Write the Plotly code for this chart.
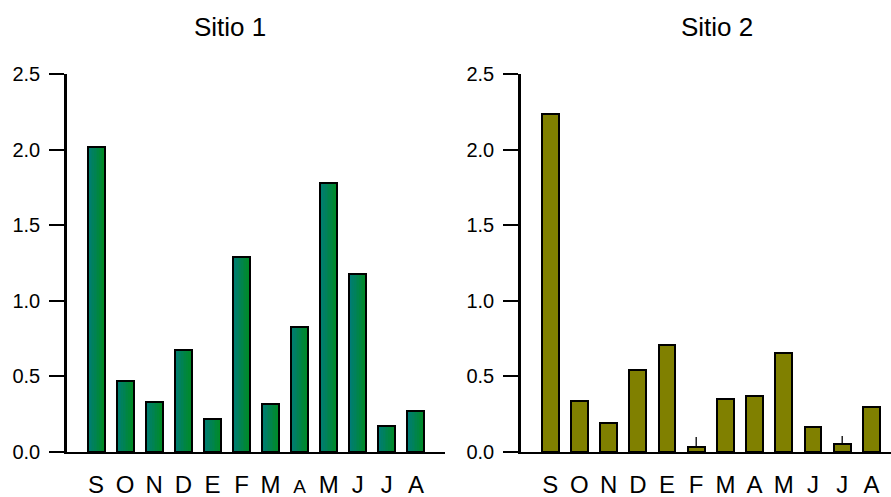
import plotly.graph_objects as go

months = ["S", "O", "N", "D", "E", "F", "M", "A", "M", "J", "J", "A"]
sitio1 = [2.02, 0.47, 0.33, 0.675, 0.22, 1.29, 0.32, 0.83, 1.78, 1.18, 0.17, 0.27]
sitio2 = [2.235, 0.34, 0.19, 0.54, 0.71, 0.03, 0.35, 0.37, 0.655, 0.165, 0.05, 0.30]
sitio2_err = [0, 0, 0, 0, 0, 0.07, 0, 0, 0, 0, 0.055, 0]
yticks = [0.0, 0.5, 1.0, 1.5, 2.0, 2.5]

xpos = list(range(len(months)))
W = 0.58
n = 10
c_left = (0, 124, 118)
c_right = (0, 138, 40)

fig = go.Figure()

# gradient stripes for Sitio 1
for i in range(n):
    t = i / (n - 1)
    col = "rgb(%d,%d,%d)" % tuple(round(a + (b - a) * t) for a, b in zip(c_left, c_right))
    fig.add_trace(go.Bar(x=xpos, y=sitio1, width=W / n + 0.005, offset=-W / 2 + i * W / n,
                         marker=dict(color=col, line=dict(width=0)),
                         xaxis="x", yaxis="y", showlegend=False, hoverinfo="skip"))
fig.add_trace(go.Bar(x=xpos, y=sitio1, width=W, offset=-W / 2,
                     marker=dict(color="rgba(0,0,0,0)", line=dict(color="black", width=2)),
                     xaxis="x", yaxis="y", showlegend=False))

fig.add_trace(go.Bar(x=xpos, y=sitio2, width=W, offset=-W / 2,
                     marker=dict(color="#808000", line=dict(color="black", width=2)),
                     error_y=dict(type="data", array=sitio2_err, arrayminus=[0] * len(sitio2_err),
                                  symmetric=False, width=0, thickness=1.3, color="black"),
                     xaxis="x2", yaxis="y2", showlegend=False))

ydom = [1 - 452 / 497, 1 - 74 / 497]
font = "Liberation Sans, Arial, sans-serif"
left_text = [("<span style='font-size:19px'>%s</span>" % m) if i == 7 else m for i, m in enumerate(months)]

xcommon = dict(showline=True, linecolor="black", linewidth=2, ticks="", showgrid=False,
               zeroline=False, tickvals=xpos, tickfont=dict(size=24, color="black", family=font),
               ticklabelstandoff=10, fixedrange=True, automargin=False)
ycommon = dict(range=[0, 2.5], tickvals=yticks, tickformat=".1f", showline=True, linecolor="black",
               linewidth=2.5, ticks="outside", ticklen=15, tickwidth=1.5, tickcolor="black",
               showgrid=False, zeroline=False, domain=ydom, automargin=False,
               tickfont=dict(size=20, color="black", family=font), ticklabelstandoff=5)

fig.update_layout(
    width=891, height=497, margin=dict(l=0, r=0, t=0, b=0),
    plot_bgcolor="white", paper_bgcolor="white", barmode="overlay", bargap=0,
    xaxis=dict(domain=[67 / 891, 445 / 891], range=[-1, 12], ticktext=left_text, anchor="y", **xcommon),
    xaxis2=dict(domain=[521 / 891, 1.0], range=[-1, 370 / 29.2 - 1], ticktext=months, anchor="y2", **xcommon),
    yaxis=dict(anchor="x", **ycommon),
    yaxis2=dict(anchor="x2", **ycommon),
    annotations=[
        dict(text="Sitio 1", x=230 / 891, y=1 - 27 / 497, xref="paper", yref="paper",
             xanchor="center", yanchor="middle", showarrow=False,
             font=dict(size=26, color="black", family=font)),
        dict(text="Sitio 2", x=717 / 891, y=1 - 27 / 497, xref="paper", yref="paper",
             xanchor="center", yanchor="middle", showarrow=False,
             font=dict(size=26, color="black", family=font)),
    ],
)

fig.write_html("out.html")
